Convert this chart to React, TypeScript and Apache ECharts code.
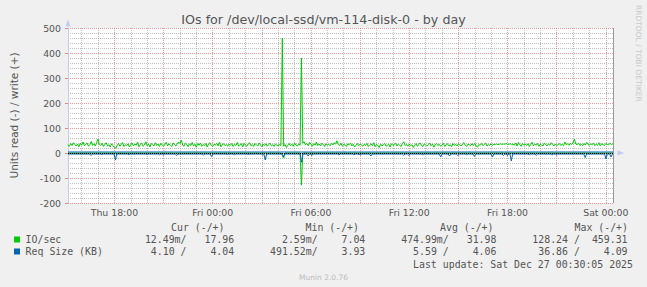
import React, { useEffect, useRef } from "react";
import * as echarts from "echarts";

// time in hours since Thu 00:00
const T_START = 15 + 1 / 6; // Thu 15:10
const T_END = 48.5; // Sat 00:30
const STEP = 1 / 12; // 5 minutes
const SLOTS = 401; // 5-minute slots from T_START to T_END

const DAY_NAMES = ["Thu", "Fri", "Sat"];
const majorHours = [18, 21, 24, 27, 30, 33, 36, 39, 42, 45, 48];
const labelHours = [18, 24, 30, 36, 42, 48];

// IO/sec write (+), 5-minute samples starting Thu 15:10
const ioWriteValues = [
  33, 27, 38, 30, 41, 34, 28, 36, 25, 39, 31, 44, 29, 35, 40, 27, 33, 46, 30, 37, 28, 42, 56, 34,
  30, 39, 26, 35, 41, 28, 33, 24, 37, 29, 22, 19, 31, 38, 27, 35, 42, 26, 33, 29, 37, 24, 34, 40,
  28, 36, 31, 43, 25, 34, 39, 27, 32, 45, 29, 35, 24, 38, 33, 28, 41, 30, 36, 26, 39, 32, 27, 35,
  43, 29, 37, 31, 26, 40, 33, 28, 36, 44, 38, 52, 31, 27, 39, 34, 25, 37, 30, 42, 28, 35, 23, 38,
  31, 40, 27, 34, 29, 38, 24, 36, 41, 30, 26, 35, 32, 39, 28, 43, 25, 33, 37, 29, 34, 27, 36, 31,
  38, 26, 35, 30, 42, 28, 33, 37, 24, 39, 31, 27, 36, 41, 29, 34, 26, 38, 32, 28, 40, 33, 25, 36,
  30, 37, 27, 34, 39, 29, 33, 26, 36, 31, 28, 35, 30, 459.31, 27, 34, 22, 31, 38, 29, 35, 27, 40, 32,
  28, 36, 31, 380, 40, 45, 33, 38, 29, 42, 35, 27, 37, 31, 44, 30, 36, 28, 39, 33, 26, 37, 31, 35,
  29, 38, 32, 41, 36, 49, 34, 30, 39, 27, 35, 31, 26, 37, 33, 40, 28, 35, 24, 31, 38, 29, 36, 33,
  27, 35, 30, 39, 26, 33, 37, 29, 41, 25, 34, 31, 22, 36, 28, 33, 38, 27, 31, 35, 24, 37, 30, 34,
  39, 28, 36, 31, 26, 38, 45, 30, 34, 27, 36, 29, 33, 22, 31, 38, 27, 35, 40, 30, 26, 36, 32, 28,
  34, 40, 29, 36, 23, 33, 38, 30, 35, 27, 31, 39, 26, 34, 37, 29, 33, 25, 38, 31, 35, 28, 37, 32,
  28, 36, 41, 31, 26, 35, 33, 29, 37, 30, 39, 27, 24, 34, 31, 38, 29, 35, 40, 28, 33, 31, 37, 30,
  35, 34, 36, 33, 35, 37, 34, 36, 35, 38, 34, 35, 37, 33, 36, 31, 40, 28, 42, 33, 27, 38, 31, 36,
  30, 37, 26, 34, 43, 29, 35, 32, 38, 27, 36, 31, 28, 40, 33, 29, 37, 31, 41, 35, 28, 36, 30, 33,
  38, 30, 35, 29, 44, 33, 37, 31, 39, 34, 42, 55, 36, 33, 40, 30, 35, 29, 38, 32, 42, 34, 31, 37,
  33, 39, 29, 36, 31, 41, 28, 37, 33, 30, 38, 35, 32, 39, 34, 36, 37,
];

// IO/sec read (-)
const ioReadTimes = [T_START, 28.1667, 28.25, 28.3333, 28.4167, 29.3333, 29.4167, 29.5, T_END];
const ioReadValues = [0, 0, -8, -20, 0, 0, -128.24, 0, 0];

// Req Size write (+)
const reqWriteTimes = [T_START, 22, 30, 40, T_END];
const reqWriteValues = [4.04, 4.09, 3.93, 4.06, 4.04];

// Req Size read (-)
const reqReadBase = -4.1;
const reqReadDipTimes = [16.57, 17.23, 18.06, 18.88, 19.97, 20.76, 21.8, 23.44, 23.93, 24.9, 25.33, 26.18, 27.21, 28.31, 29.42, 29.83, 30.05, 31.71, 32.62, 32.93, 33.66, 35.66, 35.97, 36.82, 37.92, 38.46, 38.95, 39.5, 39.98, 41.08, 41.75, 41.99, 42.23, 43.33, 43.76, 44.73, 46.74, 48.01, 48.32];
const reqReadDipValues = [-10, -6, -28, -7, -6, -7, -10, -8, -14, -6, -7, -6, -28, -16, -36.86, -12, -10, -8, -7, -6, -12, -9, -9, -7, -16, -12, -9, -7, -14, -16, -10, -10, -32, -7, -9, -7, -18, -24, -16];

const legendHeaders = ["Cur (-/+)", "Min (-/+)", "Avg (-/+)", "Max (-/+)"];
const ioStats = ["12.49m/", "17.96", "2.59m/", "7.04", "474.99m/", "31.98", "128.24 /", "459.31"];
const reqStats = ["4.10 /", "4.04", "491.52m/", "3.93", "5.59 /", "4.06", "36.86 /", "4.09"];

const GREEN = "#00cc00";
const BLUE = "#0066b3";
const TXT = "#555555";
const SANS = "DejaVu Sans";
const MONO = "DejaVu Sans Mono";
const MINOR_COLOR = "rgba(150,150,150,0.6)";
const MAJOR_COLOR = "rgba(230,90,90,0.6)";
const AXIS_COLOR = "#c4cbf2";

function fmtHour(v: number) {
  const d = Math.floor(v / 24 + 1e-6);
  const h = Math.round(v - d * 24);
  return `${DAY_NAMES[d]} ${String(h).padStart(2, "0")}:00`;
}

export default function App() {
  const ref = useRef<HTMLDivElement>(null);
  useEffect(() => {
    const chart = echarts.init(ref.current!, null, { renderer: "svg" });

    const ioWritePoints = ioWriteValues.map((v, i) => [T_START + i * STEP, v]);
    const ioReadPoints = ioReadTimes.map((t, i) => [t, ioReadValues[i]]);
    const reqWritePoints = reqWriteTimes.map((t, i) => [t, reqWriteValues[i]]);
    const reqReadPoints: number[][] = [[T_START, reqReadBase]];
    reqReadDipTimes.forEach((t, i) => {
      reqReadPoints.push([t - 1 / 12, reqReadBase], [t, reqReadDipValues[i]], [t + 1 / 12, reqReadBase]);
    });
    reqReadPoints.push([T_END, reqReadBase]);

    // 5-minute slot categories used only for the hourly minor grid
    const slotNames = Array.from({ length: SLOTS }, (_, i) => String(i));
    const isWholeHour = (i: number) => {
      const minutes = Math.round((T_START + i * STEP) * 60);
      return minutes % 60 === 0 && (minutes / 60) % 3 !== 0;
    };

    const minorStyle = { color: MINOR_COLOR, type: [1, 1], width: 1 };
    const majorStyle = { color: MAJOR_COLOR, type: [1, 1], width: 1 };

    const CW = 5.96;
    const X0 = 25.6;
    const readEnds = [27, 49, 71, 93];
    const writeEnds = [35, 57, 79, 101];
    const headerLefts = [171, 305.5, 440, 574.5];
    const rowY = [239.5, 251.5];

    const graphics: any[] = [
      {
        type: "text", x: 323.5, y: 19,
        style: { text: "IOs for /dev/local-ssd/vm-114-disk-0 - by day", fontFamily: SANS, fontSize: 12.7, fill: TXT, align: "center", verticalAlign: "middle" },
      },
      {
        type: "text", x: 638, y: 5, rotation: -Math.PI / 2,
        style: { text: "RRDTOOL / TOBI OETIKER", fontFamily: SANS, fontSize: 7.5, fill: "#c8c8c8", align: "left", verticalAlign: "middle" },
      },
      {
        type: "text", x: 323.5, y: 277,
        style: { text: "Munin 2.0.76", fontFamily: SANS, fontSize: 7.5, fill: "#bbbbbb", align: "center", verticalAlign: "middle" },
      },
      {
        type: "text", x: 633, y: 264,
        style: { text: "Last update: Sat Dec 27 00:30:05 2025", fontFamily: MONO, fontSize: 9.9, fill: TXT, align: "right", verticalAlign: "middle" },
      },
    ];
    legendHeaders.forEach((h, i) => {
      graphics.push({ type: "text", x: headerLefts[i], y: 227, style: { text: h, fontFamily: MONO, fontSize: 9.9, fill: TXT, align: "left", verticalAlign: "middle" } });
    });
    [
      { label: "IO/sec", color: GREEN, stats: ioStats },
      { label: "Req Size (KB)", color: BLUE, stats: reqStats },
    ].forEach((row, r) => {
      const y = rowY[r];
      graphics.push({ type: "rect", shape: { x: 14, y: y - 3, width: 6, height: 6 }, style: { fill: row.color } });
      graphics.push({ type: "text", x: X0, y, style: { text: row.label, fontFamily: MONO, fontSize: 9.9, fill: TXT, align: "left", verticalAlign: "middle" } });
      row.stats.forEach((s, k) => {
        const col = k % 2 === 0 ? readEnds[k >> 1] : writeEnds[k >> 1];
        graphics.push({ type: "text", x: X0 + col * CW, y, style: { text: s, fontFamily: MONO, fontSize: 9.9, fill: TXT, align: "right", verticalAlign: "middle" } });
      });
    });

    const option: any = {
      animation: false,
      backgroundColor: "#f0f0f0",
      grid: { left: 66, top: 28, right: 33, bottom: 84, show: true, backgroundColor: "#ffffff", borderWidth: 0 },
      xAxis: [
        {
          type: "value",
          min: T_START,
          max: T_END,
          position: "bottom",
          axisLine: { show: true, lineStyle: { color: AXIS_COLOR, width: 1 }, symbol: ["none", "triangle"], symbolSize: [5, 7], symbolOffset: [0, 7] },
          axisTick: { show: true, customValues: majorHours, length: 3, lineStyle: { color: "rgba(230,90,90,0.7)" } },
          axisLabel: { customValues: labelHours, formatter: fmtHour, color: TXT, fontFamily: SANS, fontSize: 9.33, margin: 5 },
          splitLine: { show: true, lineStyle: majorStyle },
          z: 1,
        },
        {
          type: "category",
          data: slotNames,
          boundaryGap: false,
          position: "top",
          axisLine: { show: false },
          axisLabel: { show: false },
          axisTick: { show: false },
          splitLine: { show: true, interval: (i: number) => isWholeHour(i), lineStyle: minorStyle },
          z: 0,
        },
      ],
      yAxis: {
        type: "value",
        min: -200,
        max: 500,
        interval: 100,
        name: "Units read (-) / write (+)",
        nameLocation: "middle",
        nameGap: 49,
        nameTextStyle: { color: TXT, fontFamily: SANS, fontSize: 10.5 },
        axisLine: { show: true, lineStyle: { color: AXIS_COLOR, width: 1 }, symbol: ["none", "triangle"], symbolSize: [5, 7], symbolOffset: [0, 5] },
        axisTick: { show: true, length: 3, lineStyle: { color: "rgba(230,90,90,0.7)" } },
        axisLabel: { color: TXT, fontFamily: SANS, fontSize: 9.33, margin: 7 },
        splitLine: { show: true, lineStyle: majorStyle },
        minorTick: { show: false, splitNumber: 5 },
        minorSplitLine: { show: true, lineStyle: minorStyle },
      },
      graphic: graphics,
      series: [
        { type: "line", name: "IO/sec write", data: ioWritePoints, symbol: "none", lineStyle: { color: GREEN, width: 1 }, z: 3 },
        { type: "line", name: "IO/sec read", data: ioReadPoints, symbol: "none", lineStyle: { color: GREEN, width: 1 }, z: 3 },
        { type: "line", name: "Req Size write", data: reqWritePoints, symbol: "none", lineStyle: { color: BLUE, width: 1 }, z: 4 },
        {
          type: "line",
          name: "Req Size read",
          data: reqReadPoints,
          symbol: "none",
          lineStyle: { color: BLUE, width: 1 },
          z: 4,
          markLine: {
            silent: true,
            symbol: ["none", "none"],
            label: { show: false },
            animation: false,
            data: [
              { yAxis: 0, lineStyle: { color: "#000000", type: [1, 1], width: 1 } },
              { xAxis: 48.45, lineStyle: { color: "#999999", type: "solid", width: 1 } },
            ],
          },
        },
      ],
    };
    chart.setOption(option);
    return () => chart.dispose();
  }, []);
  return <div ref={ref} style={{ position: "fixed", left: 0, top: 0, width: 647, height: 287 }} />;
}
